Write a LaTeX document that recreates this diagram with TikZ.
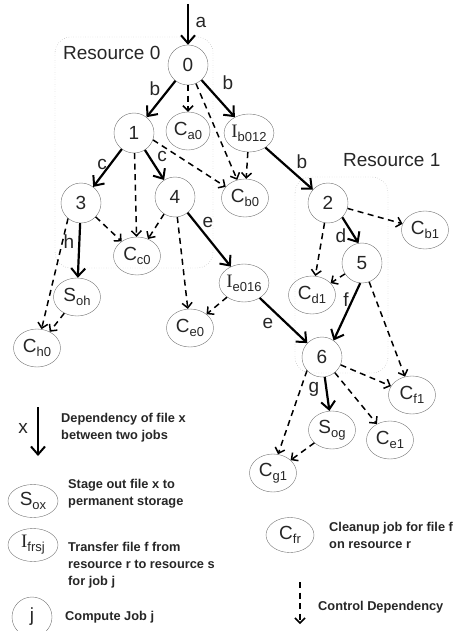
\documentclass[tikz,border=0pt]{standalone}
\usepackage{fontspec}
\setmainfont{Liberation Sans}
\newfontfamily\serifface{Liberation Serif}
\usetikzlibrary{arrows.meta, shapes.geometric}

\newcommand{\nsub}[1]{\raisebox{-4pt}{\fontsize{13}{13}\selectfont #1}}
\newcommand{\IV}{{\serifface I}}

\begin{document}
\begin{tikzpicture}[x=1pt, y=-1pt]

\tikzset{
    job/.style={circle, draw=black!55, thin, minimum size=40pt, inner sep=0pt,
        font=\fontsize{19}{19}\selectfont, text=black!85},
    aux/.style={ellipse, draw=black!55, thin, minimum width=47pt, minimum height=38pt,
        inner sep=0pt, font=\fontsize{19}{19}\selectfont, text=black!85},
    dep/.style={line width=2.2pt, -{Straight Barb[length=8pt, width=14pt, line width=2pt]}},
    ctl/.style={line width=1.5pt, dash pattern=on 6pt off 4.5pt,
        -{Straight Barb[length=5pt, width=10pt, line width=1.5pt]}},
    lbl/.style={font=\fontsize{19}{19}\selectfont, text=black!85, inner sep=0pt},
    resbox/.style={draw=black!45, dotted, thin, rounded corners=16pt},
    legtxt/.style={font=\fontsize{12.8}{17}\selectfont\bfseries, text=black!85,
        align=left, anchor=west, inner sep=0pt}
}

\useasboundingbox (0,0) rectangle (455,631);

%====================================================
% resources
%====================================================
\draw[resbox] (55,37) rectangle (213,268);
\draw[resbox] (295,177) rectangle (388,373);
\node[lbl, anchor=west] (res0) at (63,53) {Resource 0};
\node[lbl, anchor=west] (res1) at (343,160) {Resource 1};

%====================================================
% jobs
%====================================================
\node[job] (n0) at (188,65) {0};
\node[job] (n1) at (134,133) {1};
\node[job] (n3) at (81,203) {3};
\node[job] (n4) at (175,197) {4};
\node[job] (n2) at (328,203) {2};
\node[job] (n5) at (362,263) {5};
\node[job] (n6) at (322,357) {6};

% transfer, stage-out and cleanup jobs
\node[aux, minimum width=44pt] (ca0) at (188,131) {C\nsub{a0}};
\node[aux] (ib012) at (249,133) {\IV\nsub{b012}};
\node[aux] (cb0) at (245,198) {C\nsub{b0}};
\node[aux] (cc0) at (137,256) {C\nsub{c0}};
\node[aux] (soh) at (77,297) {S\nsub{oh}};
\node[aux] (ch0) at (37,348) {C\nsub{h0}};
\node[aux] (ce0) at (190,328) {C\nsub{e0}};
\node[aux] (ie016) at (244,283) {\IV\nsub{e016}};
\node[aux] (cb1) at (425,230) {C\nsub{b1}};
\node[aux] (cd1) at (312,295) {C\nsub{d1}};
\node[aux] (cf1) at (412,395) {C\nsub{f1}};
\node[aux] (sog) at (332,430) {S\nsub{og}};
\node[aux] (ce1) at (390,440) {C\nsub{e1}};
\node[aux] (cg1) at (273,473) {C\nsub{g1}};

%====================================================
% file dependencies
%====================================================
\coordinate (src) at (188,4);
\draw[dep] (src) -- (n0);
\draw[dep] (n0) -- (n1);
\draw[dep] (n0) -- (ib012);
\draw[dep] (n1) -- (n3);
\draw[dep] (n1) -- (n4);
\draw[dep] (n3) -- (soh);
\draw[dep] (n4) -- (ie016);
\draw[dep] (ib012) -- (n2);
\draw[dep] (n2.-45) -- (n5.100);
\draw[dep] (n5.-95) -- (n6.55);
\draw[dep] (ie016) -- (n6);
\draw[dep] (n6) -- (sog);

\node[lbl] (la) at (201,22) {a};
\node[lbl] (lb1) at (155,89) {b};
\node[lbl] (lb2) at (228,83) {b};
\node[lbl] (lb3) at (302,162) {b};
\node[lbl] (lc1) at (102,164) {c};
\node[lbl] (lc2) at (162,156) {c};
\node[lbl] (le1) at (208,222) {e};
\node[lbl] (lh) at (69,242) {h};
\node[lbl] (ld) at (341,236) {d};
\node[lbl] (lf) at (346,300) {f};
\node[lbl] (le2) at (268,323) {e};
\node[lbl] (lg) at (314,389) {g};

%====================================================
% control dependencies
%====================================================
\foreach \src/\dst in {n0/ca0, n0/cb0, n1.-20/cb0.150, ib012/cb0, n1/cc0,
    n3/cc0, n4/cc0, n3.230/ch0, soh/ch0, n4/ce0, ie016/ce0, n2/cb1, n2/cd1,
    n5/cd1, n5/cf1, n6/cf1, n6/ce1, n6.222/cg1.75, sog/cg1}{
    \draw[ctl] (\src) -- (\dst);
}

%====================================================
% legend
%====================================================
\coordinate (kx1) at (38,407);
\coordinate (kx2) at (38,456);
\draw[dep] (kx1) -- (kx2);
\node[lbl] (kx) at (23,428) {x};
\node[legtxt] (kdep) at (61,428) {Dependency of file x\\between two jobs};

\node[aux, minimum width=50pt, minimum height=33pt] (ksox) at (33,501) {S\nsub{ox}};
\node[legtxt] (ksoxt) at (68,494) {Stage out file x to\\permanent storage};

\node[aux, minimum width=50pt, minimum height=33pt] (kifrsj) at (33,545) {\IV\nsub{frsj}};
\node[legtxt] (kifrsjt) at (68,565) {Transfer file f from\\resource r to resource s\\for job j};

\node[job] (kj) at (32,617) {j};
\node[legtxt] (kjt) at (65,617) {Compute Job j};

\node[aux, minimum width=48pt, minimum height=35pt] (kcfr) at (290,535) {C\nsub{fr}};
\node[legtxt] (kcfrt) at (329,535) {Cleanup job for file f\\on resource r};

\coordinate (kc1) at (300,582);
\coordinate (kc2) at (300,624);
\draw[ctl] (kc1) -- (kc2);
\node[legtxt] (kctl) at (318,607) {Control Dependency};

\end{tikzpicture}
\end{document}
